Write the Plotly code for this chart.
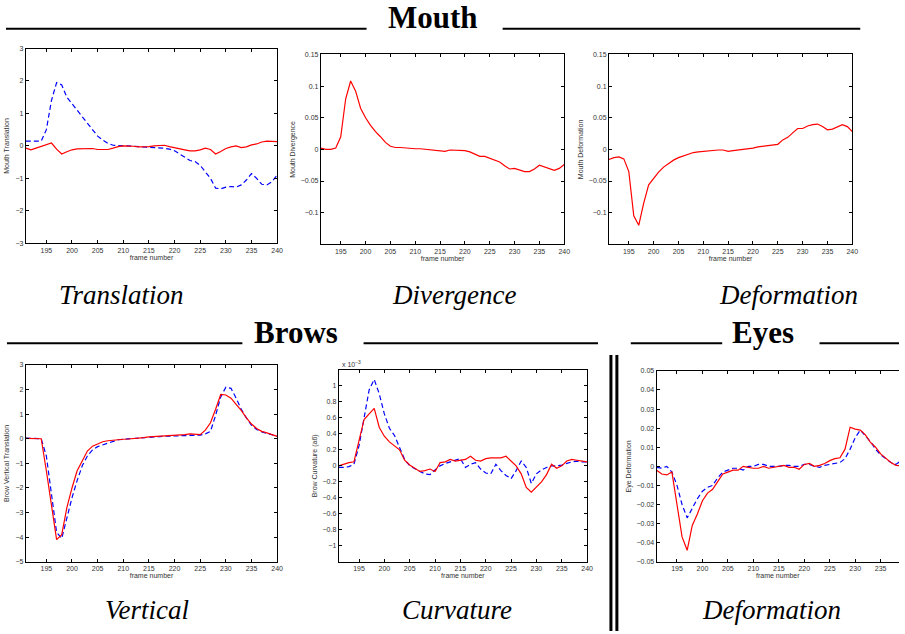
import plotly.graph_objects as go

W, H = 905, 634

frames = list(range(191, 241))

# Mouth translation
mouth_trans_red = [-0.07, -0.12, -0.07, -0.02, 0.03, 0.09, -0.10, -0.25, -0.18, -0.12,
                   -0.09, -0.08, -0.07, -0.08, -0.11, -0.12, -0.11, -0.07, -0.02, 0.00,
                   0.00, -0.01, -0.03, -0.03, -0.02, 0.00, 0.02, 0.02, -0.02, -0.06,
                   -0.09, -0.12, -0.15, -0.15, -0.12, -0.07, -0.11, -0.25, -0.17, -0.08,
                   -0.03, 0.00, -0.05, -0.03, 0.03, 0.06, 0.12, 0.15, 0.14, 0.13]
mouth_trans_blue = [0.15, 0.15, 0.13, 0.15, 0.50, 1.40, 1.95, 1.88, 1.50, 1.30,
                    1.10, 0.92, 0.72, 0.50, 0.30, 0.18, 0.08, 0.02, 0.00, 0.00,
                    0.00, -0.01, -0.02, -0.03, -0.04, -0.04, -0.05, -0.07, -0.10, -0.15,
                    -0.25, -0.35, -0.45, -0.48, -0.60, -0.80, -1.00, -1.30, -1.32, -1.27,
                    -1.25, -1.27, -1.20, -1.05, -0.85, -1.00, -1.18, -1.20, -1.10, -0.90]

# Mouth divergence
mouth_div_red = [0.002, 0.000, 0.000, 0.002, 0.020, 0.080, 0.108, 0.092, 0.065, 0.050,
                 0.038, 0.028, 0.020, 0.011, 0.005, 0.003, 0.003, 0.002, 0.001, 0.001,
                 0.001, 0.000, 0.000, -0.001, -0.003, -0.003, -0.001, -0.001, -0.001, -0.002,
                 -0.004, -0.008, -0.011, -0.011, -0.014, -0.018, -0.020, -0.026, -0.031, -0.030,
                 -0.032, -0.035, -0.035, -0.031, -0.025, -0.028, -0.031, -0.033, -0.030, -0.024]

# Mouth deformation
mouth_def_red = [-0.016, -0.013, -0.012, -0.015, -0.035, -0.105, -0.120, -0.085, -0.056, -0.045,
                 -0.036, -0.028, -0.022, -0.017, -0.013, -0.010, -0.007, -0.005, -0.004, -0.003,
                 -0.002, -0.001, -0.001, -0.001, -0.003, -0.002, -0.001, 0.000, 0.000, 0.002,
                 0.004, 0.005, 0.006, 0.007, 0.008, 0.015, 0.019, 0.026, 0.033, 0.033,
                 0.037, 0.039, 0.040, 0.036, 0.031, 0.032, 0.035, 0.039, 0.036, 0.028]

# Brow vertical translation
brow_vert_red = [0.02, 0.02, 0.02, 0.00, -1.30, -2.80, -4.10, -3.90, -2.80, -2.00,
                 -1.30, -0.90, -0.50, -0.30, -0.20, -0.12, -0.08, -0.05, -0.03, -0.02,
                 -0.01, 0.00, 0.02, 0.05, 0.08, 0.09, 0.10, 0.11, 0.12, 0.13,
                 0.14, 0.17, 0.20, 0.19, 0.17, 0.35, 0.65, 1.20, 1.80, 1.78,
                 1.65, 1.40, 1.15, 0.85, 0.60, 0.42, 0.30, 0.24, 0.17, 0.10]
brow_vert_blue = [0.03, 0.03, 0.03, 0.00, -0.70, -2.20, -3.80, -4.05, -3.20, -2.40,
                  -1.70, -1.10, -0.70, -0.45, -0.32, -0.25, -0.15, -0.08, -0.04, -0.02,
                  0.00, 0.01, 0.03, 0.05, 0.06, 0.07, 0.09, 0.10, 0.11, 0.12,
                  0.13, 0.15, 0.15, 0.15, 0.15, 0.20, 0.30, 0.95, 1.70, 2.10,
                  2.05, 1.65, 1.20, 0.85, 0.55, 0.38, 0.28, 0.22, 0.17, 0.10]

# Brow curvature (units of 1e-3)
brow_curv_red = [0.00, 0.02, 0.04, 0.05, 0.30, 0.58, 0.65, 0.72, 0.48, 0.37,
                 0.30, 0.25, 0.20, 0.07, 0.01, -0.03, -0.07, -0.06, -0.04, -0.07,
                 0.04, 0.05, 0.08, 0.06, 0.07, 0.08, 0.12, 0.07, 0.06, 0.09,
                 0.10, 0.10, 0.10, 0.12, 0.06, 0.00, -0.10, -0.27, -0.33, -0.27,
                 -0.20, -0.11, 0.02, -0.03, 0.00, 0.06, 0.08, 0.07, 0.06, 0.05]
brow_curv_blue = [-0.02, -0.02, -0.01, 0.02, 0.25, 0.60, 0.95, 1.08, 0.90, 0.65,
                  0.47, 0.38, 0.22, 0.08, 0.00, -0.04, -0.07, -0.10, -0.11, -0.05,
                  0.00, 0.03, 0.05, 0.07, 0.09, -0.02, 0.02, 0.04, -0.04, -0.09,
                  -0.10, 0.02, -0.06, -0.12, -0.16, -0.06, 0.06, -0.02, -0.22, -0.10,
                  -0.05, -0.02, 0.00, 0.00, 0.01, 0.03, 0.05, 0.06, 0.05, 0.05]

# Eye deformation
eye_def_red = [-0.002, -0.004, -0.0045, -0.003, -0.020, -0.037, -0.044, -0.031, -0.025, -0.018,
               -0.014, -0.012, -0.008, -0.004, -0.003, -0.002, -0.002, 0.000, -0.0005, -0.001,
               -0.001, 0.000, -0.001, -0.0005, 0.000, 0.0005, -0.0005, -0.0005, -0.0015, 0.001,
               0.0015, 0.000, 0.0005, 0.0015, 0.003, 0.004, 0.0045, 0.009, 0.0205, 0.0195,
               0.019, 0.0165, 0.0125, 0.010, 0.0065, 0.004, 0.002, 0.0005, 0.000, 0.000]
eye_def_blue = [-0.0005, -0.001, 0.000, -0.003, -0.010, -0.020, -0.027, -0.022, -0.017, -0.013,
                -0.011, -0.010, -0.006, -0.003, -0.002, -0.001, -0.001, -0.002, 0.000, 0.000,
                0.001, 0.001, 0.000, 0.000, 0.000, 0.0005, 0.0005, 0.000, 0.000, 0.001,
                0.001, 0.000, -0.0005, 0.0005, 0.001, 0.0015, 0.002, 0.004, 0.009, 0.015,
                0.019, 0.016, 0.013, 0.009, 0.006, 0.004, 0.002, 0.001, 0.003, 0.0035]

x_ticks = [195, 200, 205, 210, 215, 220, 225, 230, 235, 240]
x_ticks_eye = [195, 200, 205, 210, 215, 220, 225, 230, 235]
ticks_trans = [-3, -2, -1, 0, 1, 2, 3]
ticks_mouth = [-0.1, -0.05, 0, 0.05, 0.1, 0.15]
ticks_vert = [-5, -4, -3, -2, -1, 0, 1, 2, 3]
ticks_curv = [-1, -0.8, -0.6, -0.4, -0.2, 0, 0.2, 0.4, 0.6, 0.8, 1]
ticks_eye = [-0.05, -0.04, -0.03, -0.02, -0.01, 0, 0.01, 0.02, 0.03, 0.04, 0.05]

y_titles = ["Mouth Translation", "Mouth Divergence", "Mouth Deformation",
            "Brow Vertical Translation", "Brow Curvature (a6)", "Eye Deformation"]

RED = "#ff0000"
BLUE = "#0000ff"
TICKFONT = dict(family="Liberation Sans, Arial, sans-serif", size=7, color="#333333")


def fmt(v):
    s = ("%g" % v)
    return s.replace("-", "\u2212")


def dx(a, b):
    return [a / W, b / W]


def dy(top, bottom):
    return [1 - bottom / H, 1 - top / H]


panels = [
    # (x domain px, y domain px, yrange, yticks, xrange, xticks, series)
    ((26, 279), (45, 242), [-3, 3], ticks_trans, [191, 240], x_ticks,
     [(mouth_trans_blue, BLUE, True), (mouth_trans_red, RED, False)]),
    ((323, 568), (51, 243), [-0.15, 0.15], ticks_mouth, [191, 240], x_ticks,
     [(mouth_div_red, RED, False)]),
    ((613, 858), (51, 243), [-0.15, 0.15], ticks_mouth, [191, 240], x_ticks,
     [(mouth_def_red, RED, False)]),
    ((26, 279), (365, 564), [-5, 3], ticks_vert, [191, 240], x_ticks,
     [(brow_vert_blue, BLUE, True), (brow_vert_red, RED, False)]),
    ((341, 591), (370, 564), [-1.2, 1.2], ticks_curv, [191, 240], x_ticks,
     [(brow_curv_blue, BLUE, True), (brow_curv_red, RED, False)]),
    ((661, 905), (371, 564), [-0.05, 0.05], ticks_eye, [191, 238.6], x_ticks_eye,
     [(eye_def_blue, BLUE, True), (eye_def_red, RED, False)]),
]

fig = go.Figure()
layout = dict(width=W, height=H, margin=dict(l=0, r=0, t=0, b=0),
              paper_bgcolor="white", plot_bgcolor="white", showlegend=False)

for i, (xd, yd, yr, yt, xr, xt, series) in enumerate(panels, start=1):
    xa = "x" if i == 1 else "x%d" % i
    ya = "y" if i == 1 else "y%d" % i
    for vals, col, dashed in series:
        fig.add_trace(go.Scatter(
            x=frames, y=vals, mode="lines", xaxis=xa, yaxis=ya,
            line=dict(color=col, width=1.2, dash="5px,3px" if dashed else "solid"),
            hoverinfo="skip"))
    last = (i == 6)
    layout["xaxis" if i == 1 else "xaxis%d" % i] = dict(
        domain=dx(*xd), range=xr, anchor=ya,
        tickvals=xt, ticktext=[str(t) for t in xt],
        ticks="inside", ticklen=3, tickcolor="black", tickwidth=1,
        showline=True, linecolor="black", linewidth=1, mirror="ticks",
        showgrid=False, zeroline=False, tickfont=TICKFONT,
        title=dict(text="frame number", font=TICKFONT, standoff=0))
    layout["yaxis" if i == 1 else "yaxis%d" % i] = dict(
        domain=dy(*yd), range=yr, anchor=xa,
        tickvals=yt, ticktext=[fmt(v) for v in yt],
        ticks="inside", ticklen=3, tickcolor="black", tickwidth=1,
        showline=True, linecolor="black", linewidth=1,
        mirror=False if last else "ticks",
        showgrid=False, zeroline=False, tickfont=TICKFONT,
        title=dict(text=y_titles[i - 1], font=TICKFONT, standoff=4))

shapes = []


def hline(x0, x1, y, w=2):
    shapes.append(dict(type="line", xref="paper", yref="paper",
                       x0=x0 / W, x1=x1 / W, y0=1 - y / H, y1=1 - y / H,
                       line=dict(color="black", width=w)))


hline(6, 369, 25)
hline(506, 866, 25)
hline(7, 244, 343)
hline(366, 602, 343)
hline(635, 727, 343)
hline(825, 905, 343)
for xb in (615, 621):
    shapes.append(dict(type="line", xref="paper", yref="paper",
                       x0=xb / W, x1=xb / W, y0=1 - 355 / H, y1=0,
                       line=dict(color="black", width=3)))
layout["shapes"] = shapes

HEAD = dict(family="Liberation Serif, serif", size=31, color="black")
ITAL = dict(family="Liberation Serif, serif", size=27, color="black")
annotations = []


def ann(text, x, y, font, **kw):
    d = dict(text=text, x=x / W, y=1 - y / H, xref="paper", yref="paper",
             showarrow=False, font=font, xanchor="center", yanchor="middle")
    d.update(kw)
    annotations.append(d)


ann("<b>Mouth</b>", 436, 14, HEAD)
ann("<b>Brows</b>", 298, 332, HEAD)
ann("<b>Eyes</b>", 768, 332, HEAD)
ann("<i>Translation</i>", 122, 294, ITAL)
ann("<i>Divergence</i>", 457, 294, ITAL)
ann("<i>Deformation</i>", 794, 294, ITAL)
ann("<i>Vertical</i>", 148, 613, ITAL)
ann("<i>Curvature</i>", 460, 613, ITAL)
ann("<i>Deformation</i>", 777, 613, ITAL)
ann("x 10<sup>\u22123</sup>", 342, 364, TICKFONT, xanchor="left")
layout["annotations"] = annotations

fig.update_layout(**layout)
fig.write_html("out.html",
               config={"displayModeBar": False, "staticPlot": True},
               post_script="document.body.style.margin='0';"
                           "document.body.style.overflow='hidden';")
